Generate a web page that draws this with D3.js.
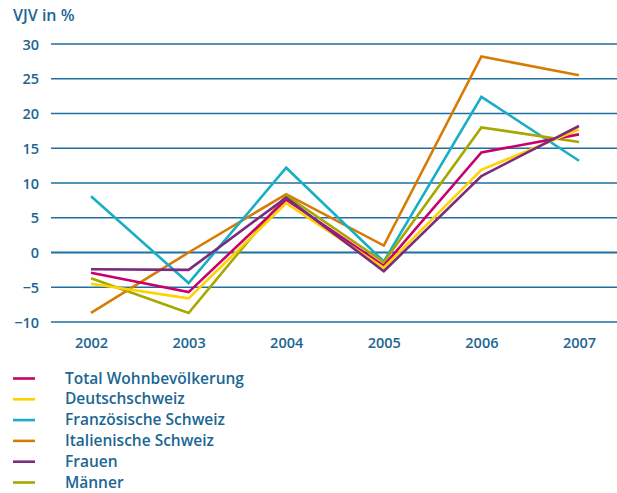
<!DOCTYPE html>
<html>
<head>
<meta charset="utf-8">
<script src="https://cdn.jsdelivr.net/npm/d3@7"></script>
<style>
  body { margin: 0; background: #fff; }
  text { font-family: "Open Sans", "Noto Sans", sans-serif; fill: #1b6693; font-weight: 600; }
</style>
</head>
<body>
<div id="js_chart"></div>
<script>
const years = [2002, 2003, 2004, 2005, 2006, 2007];
const yTicks = [-10, -5, 0, 5, 10, 15, 20, 25, 30];

const seriesNames = ["Total Wohnbevölkerung", "Deutschschweiz", "Französische Schweiz",
  "Italienische Schweiz", "Frauen", "Männer"];
const seriesColors = ["#c9006b", "#ffd200", "#19aec6", "#d87a06", "#7b2a80", "#a6a800"];

const total      = [-2.9, -5.7,  7.6, -1.9, 14.4, 17.0];
const deutsch    = [-4.5, -6.6,  7.1, -2.2, 11.9, 17.7];
const franz      = [ 8.1, -4.4, 12.2, -1.3, 22.4, 13.2];
const italien    = [-8.7,  0.0,  8.4,  1.0, 28.2, 25.5];
const frauen     = [-2.4, -2.5,  7.9, -2.7, 11.0, 18.2];
const maenner    = [-3.7, -8.7,  8.2, -1.4, 18.0, 15.9];

const seriesValues = [total, deutsch, franz, italien, frauen, maenner];
// draw order: back to front as in the picture
const drawOrder = [3, 2, 5, 0, 1, 4];

const width = 617, height = 493;
const svg = d3.select("#js_chart").append("svg")
  .attr("width", width).attr("height", height);

const x = d3.scalePoint().domain(years).range([91, 579]);
const y = d3.scaleLinear().domain([-10, 30]).range([322, 44]);

// grid
svg.append("g").selectAll("line")
  .data(yTicks)
  .join("line")
    .attr("x1", 51).attr("x2", width)
    .attr("y1", d => y(d)).attr("y2", d => y(d))
    .attr("stroke", "#1f6fa2")
    .attr("stroke-width", d => d === 0 ? 2 : 1.3);

const yAxis = svg.append("g")
  .attr("transform", "translate(39,0)")
  .call(d3.axisLeft(y).tickValues(yTicks).tickSize(0).tickPadding(0));
yAxis.select(".domain").remove();
yAxis.selectAll("text").attr("font-size", 14.5).attr("dy", "0.35em")
  .style("font-family", "\"Open Sans\", sans-serif");

const xAxis = svg.append("g")
  .attr("transform", "translate(0,343)")
  .call(d3.axisBottom(x).tickSize(0).tickPadding(0).tickFormat(d3.format("d")));
xAxis.select(".domain").remove();
xAxis.selectAll("text").attr("font-size", 14.5).attr("dy", "0.35em")
  .style("font-family", "\"Open Sans\", sans-serif");

svg.append("text")
  .attr("x", 13).attr("y", 21)
  .attr("font-size", 16)
  .text("VJV in %");

const line = d3.line()
  .x((d, i) => x(years[i]))
  .y(d => y(d));

svg.append("g").selectAll("path")
  .data(drawOrder)
  .join("path")
    .attr("fill", "none")
    .attr("stroke", i => seriesColors[i])
    .attr("stroke-width", 2.6)
    .attr("stroke-linejoin", "miter")
    .attr("d", i => line(seriesValues[i]));

// legend
const legend = svg.append("g").selectAll("g")
  .data(seriesNames)
  .join("g")
    .attr("transform", (d, i) => `translate(0,${378.5 + i * 20.8})`);
legend.append("line")
  .attr("x1", 13).attr("x2", 35)
  .attr("stroke", (d, i) => seriesColors[i])
  .attr("stroke-width", 2.6);
legend.append("text")
  .attr("x", 65).attr("dy", "0.33em")
  .attr("font-size", 15.5)
  .text(d => d);
</script>
</body>
</html>
